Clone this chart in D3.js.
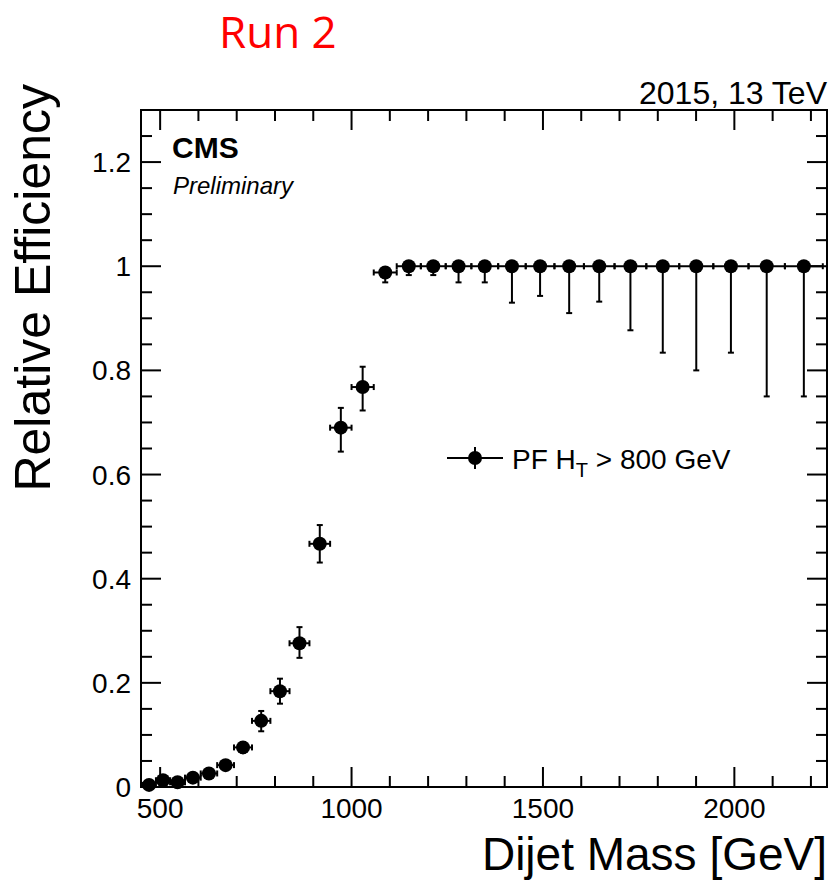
<!DOCTYPE html>
<html>
<head>
<meta charset="utf-8">
<script src="https://cdn.jsdelivr.net/npm/d3@7"></script>
<style>
  body { margin: 0; background: #fff; }
  text { font-family: "Liberation Sans", Arial, sans-serif; fill: #000; }
</style>
</head>
<body>
<svg id="chart" width="831" height="882"></svg>
<script>
// --- data
var binEdges = [453, 489, 526, 565, 606, 649, 693, 740, 788, 838, 890, 944, 1000, 1058,
                1118, 1181, 1246, 1313, 1383, 1455, 1530, 1607, 1687, 1770, 1856, 1945,
                2037, 2132, 2231];
var efficiency = [0.004, 0.013, 0.009, 0.018, 0.026, 0.042, 0.076, 0.127, 0.184, 0.276,
                  0.467, 0.690, 0.768, 0.988, 1, 1, 1, 1, 1, 1, 1, 1, 1, 1, 1, 1, 1, 1];
var errHigh = [0.004, 0.005, 0.005, 0.006, 0.007, 0.008, 0.010, 0.019, 0.024, 0.031,
               0.036, 0.038, 0.039, 0.007, 0, 0, 0, 0, 0, 0, 0, 0, 0, 0, 0, 0, 0, 0];
var errLow = [0.004, 0.005, 0.005, 0.006, 0.007, 0.008, 0.010, 0.020, 0.024, 0.028,
              0.036, 0.046, 0.045, 0.019, 0.017, 0.017, 0.031, 0.031, 0.070, 0.057,
              0.090, 0.068, 0.123, 0.166, 0.200, 0.166, 0.250, 0.250];
var xTicks = [500, 1000, 1500, 2000];
var yTicks = [0, 0.2, 0.4, 0.6, 0.8, 1, 1.2];
var legendLabel = "PF H";

var svg = d3.select("#chart");
var frame = {left: 141, right: 827, top: 110, bottom: 787};

var x = d3.scaleLinear().domain([450, 2242]).range([frame.left, frame.right]);
var y = d3.scaleLinear().domain([0, 1.3]).range([frame.bottom, frame.top]);

// build point table from the arrays
var points = efficiency.map(function(e, i) {
  return {
    lo: binEdges[i], hi: binEdges[i + 1],
    c: (binEdges[i] + binEdges[i + 1]) / 2,
    v: e, up: errHigh[i], dn: errLow[i]
  };
});

// --- header texts
svg.append("text").attr("x", 219).attr("y", 48)
  .style("font-family", "'Open Sans', sans-serif").style("font-size", "44px")
  .style("fill", "#ff0000").text("Run 2");

svg.append("text").attr("x", 827).attr("y", 104).attr("text-anchor", "end")
  .style("font-size", "32px").text("2015, 13 TeV");

// --- frame with ticks on all four sides
var g = svg.append("g");
var minorX = d3.range(500, 2242, 100);
var minorY = d3.range(0, 1.3001, 0.05);

function tickLen(major) { return major ? 20 : 11; }

minorX.forEach(function(t) {
  var major = t % 500 === 0, L = tickLen(major);
  g.append("line").attr("x1", x(t)).attr("x2", x(t))
    .attr("y1", frame.bottom).attr("y2", frame.bottom - L)
    .attr("stroke", "#000").attr("stroke-width", 2);
  g.append("line").attr("x1", x(t)).attr("x2", x(t))
    .attr("y1", frame.top).attr("y2", frame.top + L)
    .attr("stroke", "#000").attr("stroke-width", 2);
});
minorY.forEach(function(t) {
  var major = Math.abs(t * 5 - Math.round(t * 5)) < 1e-6, L = tickLen(major);
  g.append("line").attr("x1", frame.left).attr("x2", frame.left + L)
    .attr("y1", y(t)).attr("y2", y(t))
    .attr("stroke", "#000").attr("stroke-width", 2);
  g.append("line").attr("x1", frame.right).attr("x2", frame.right - L)
    .attr("y1", y(t)).attr("y2", y(t))
    .attr("stroke", "#000").attr("stroke-width", 2);
});

g.append("rect").attr("x", frame.left).attr("y", frame.top)
  .attr("width", frame.right - frame.left).attr("height", frame.bottom - frame.top)
  .attr("fill", "none").attr("stroke", "#000").attr("stroke-width", 2);

// tick labels
svg.selectAll(".xlab").data(xTicks).enter().append("text")
  .attr("x", function(d) { return x(d); }).attr("y", 818)
  .attr("text-anchor", "middle").style("font-size", "28px")
  .text(function(d) { return d; });

svg.selectAll(".ylab").data(yTicks).enter().append("text")
  .attr("x", 131).attr("y", function(d) { return y(d) + 10; })
  .attr("text-anchor", "end").style("font-size", "28px")
  .text(function(d) { return d; });

// axis titles
svg.append("text").attr("x", 827).attr("y", 870).attr("text-anchor", "end")
  .style("font-size", "46px").text("Dijet Mass [GeV]");

svg.append("text").attr("transform", "translate(50,84) rotate(-90)")
  .attr("text-anchor", "end").style("font-size", "50px").text("Relative Efficiency");

// CMS labels
svg.append("text").attr("x", 172).attr("y", 158)
  .style("font-size", "30px").style("font-weight", "bold").text("CMS");
svg.append("text").attr("x", 173).attr("y", 194)
  .style("font-size", "24px").style("font-style", "italic").text("Preliminary");

// --- data points with error bars
var cap = 3;
var pg = svg.append("g").attr("stroke", "#000").attr("stroke-width", 2);

points.forEach(function(p) {
  var cx = x(p.c), cy = y(p.v);
  // horizontal bar = bin width
  pg.append("line").attr("x1", x(p.lo)).attr("x2", x(p.hi)).attr("y1", cy).attr("y2", cy);
  pg.append("line").attr("x1", x(p.lo)).attr("x2", x(p.lo)).attr("y1", cy - cap).attr("y2", cy + cap);
  pg.append("line").attr("x1", x(p.hi)).attr("x2", x(p.hi)).attr("y1", cy - cap).attr("y2", cy + cap);
  // vertical asymmetric bar
  if (p.up > 0) {
    pg.append("line").attr("x1", cx).attr("x2", cx).attr("y1", cy).attr("y2", y(p.v + p.up));
    pg.append("line").attr("x1", cx - cap).attr("x2", cx + cap)
      .attr("y1", y(p.v + p.up)).attr("y2", y(p.v + p.up));
  }
  if (p.dn > 0) {
    pg.append("line").attr("x1", cx).attr("x2", cx).attr("y1", cy).attr("y2", y(p.v - p.dn));
    pg.append("line").attr("x1", cx - cap).attr("x2", cx + cap)
      .attr("y1", y(p.v - p.dn)).attr("y2", y(p.v - p.dn));
  }
});

svg.append("g").selectAll("circle").data(points).enter().append("circle")
  .attr("cx", function(d) { return x(d.c); })
  .attr("cy", function(d) { return y(d.v); })
  .attr("r", 7).attr("fill", "#000");

// --- legend
var lg = svg.append("g");
lg.append("line").attr("x1", 447).attr("x2", 503).attr("y1", 458).attr("y2", 458)
  .attr("stroke", "#000").attr("stroke-width", 2);
lg.append("line").attr("x1", 475).attr("x2", 475).attr("y1", 447).attr("y2", 469)
  .attr("stroke", "#000").attr("stroke-width", 2);
lg.append("circle").attr("cx", 475).attr("cy", 458).attr("r", 7).attr("fill", "#000");
var lt = lg.append("text").attr("x", 512).attr("y", 469).style("font-size", "28px");
lt.append("tspan").text(legendLabel);
lt.append("tspan").attr("dy", 8).style("font-size", "20px").text("T");
lt.append("tspan").attr("dy", -8).text(" > 800 GeV");
</script>
</body>
</html>
